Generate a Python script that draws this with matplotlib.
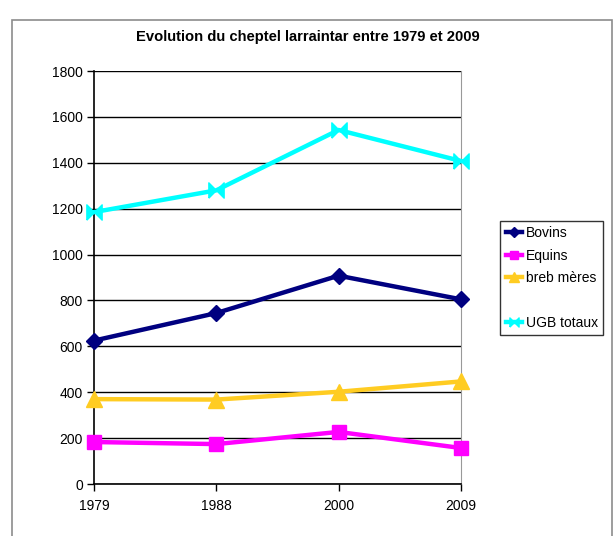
import matplotlib
matplotlib.use("Agg")
import matplotlib.pyplot as plt
from matplotlib.lines import Line2D
from matplotlib.patches import Rectangle

years = ['1979', '1988', '2000', '2009']
bovins = [625, 745, 908, 805]
equins = [183, 174, 227, 157]
brebis = [370, 368, 402, 447]
ugb = [1185, 1280, 1543, 1408]

# bow-tie marker for the UGB series
bowtie = [(-1, -1), (1, 1), (1, -1), (-1, 1), (-1, -1)]


def plot_chart(out='out.png'):
    plt.rcParams['font.family'] = ['Liberation Sans', 'DejaVu Sans']

    fig = plt.figure(figsize=(6.16, 5.36), dpi=100)
    ax = fig.add_axes([0.1526, 0.097, 0.5955, 0.7705])

    # outer chart frame
    fig.patches.append(Rectangle((12 / 616, -0.05), 600 / 616, 1 - 20 / 536 + 0.05,
                                 transform=fig.transFigure, fill=False,
                                 edgecolor='#8c8c8c', linewidth=1.2))

    x = range(len(years))
    style = dict(lw=3.2, clip_on=False, zorder=3)
    ax.plot(x, bovins, color='#000080', marker='D', ms=8, label='Bovins', **style)
    ax.plot(x, equins, color='#ff00ff', marker='s', ms=10, label='Equins', **style)
    ax.plot(x, brebis, color='#ffcc22', marker='^', ms=11, label='breb mères', **style)
    ax.plot(x, ugb, color='#00ffff', marker=bowtie, ms=11, label='UGB totaux', **style)

    ax.set_xlim(0, 3)
    ax.set_ylim(0, 1800)
    ax.set_xticks(list(x))
    ax.set_xticklabels(years)
    ax.set_yticks(range(0, 1801, 200))
    ax.tick_params(axis='both', labelsize=10, length=5, width=1, direction='out')
    ax.tick_params(axis='y', pad=3)
    ax.tick_params(axis='x', pad=6)
    ax.yaxis.grid(True, color='black', lw=1)
    ax.set_axisbelow(True)
    ax.spines['top'].set_visible(False)
    ax.spines['right'].set_color('#999999')
    ax.spines['left'].set_linewidth(1.2)
    ax.spines['bottom'].set_linewidth(1.2)

    fig.text(0.5, 1 - 37 / 536, 'Evolution du cheptel larraintar entre 1979 et 2009',
             ha='center', va='center', fontsize=10.6, fontweight='bold')

    handles, labels = ax.get_legend_handles_labels()
    blank = Line2D([], [], color='none')
    handles.insert(3, blank)
    labels.insert(3, ' ')
    leg = ax.legend(handles, labels, loc='center left',
                    bbox_to_anchor=(500 / 616, 1 - 278 / 536),
                    bbox_transform=fig.transFigure, fontsize=10,
                    handlelength=1.2, handletextpad=0.25, markerscale=0.6,
                    borderpad=0.4, labelspacing=0.6, fancybox=False,
                    frameon=True, borderaxespad=0)
    leg.get_frame().set_edgecolor('black')
    leg.get_frame().set_linewidth(1)

    fig.savefig(out, dpi=100)
    plt.close(fig)


if __name__ == '__main__':
    plot_chart()
